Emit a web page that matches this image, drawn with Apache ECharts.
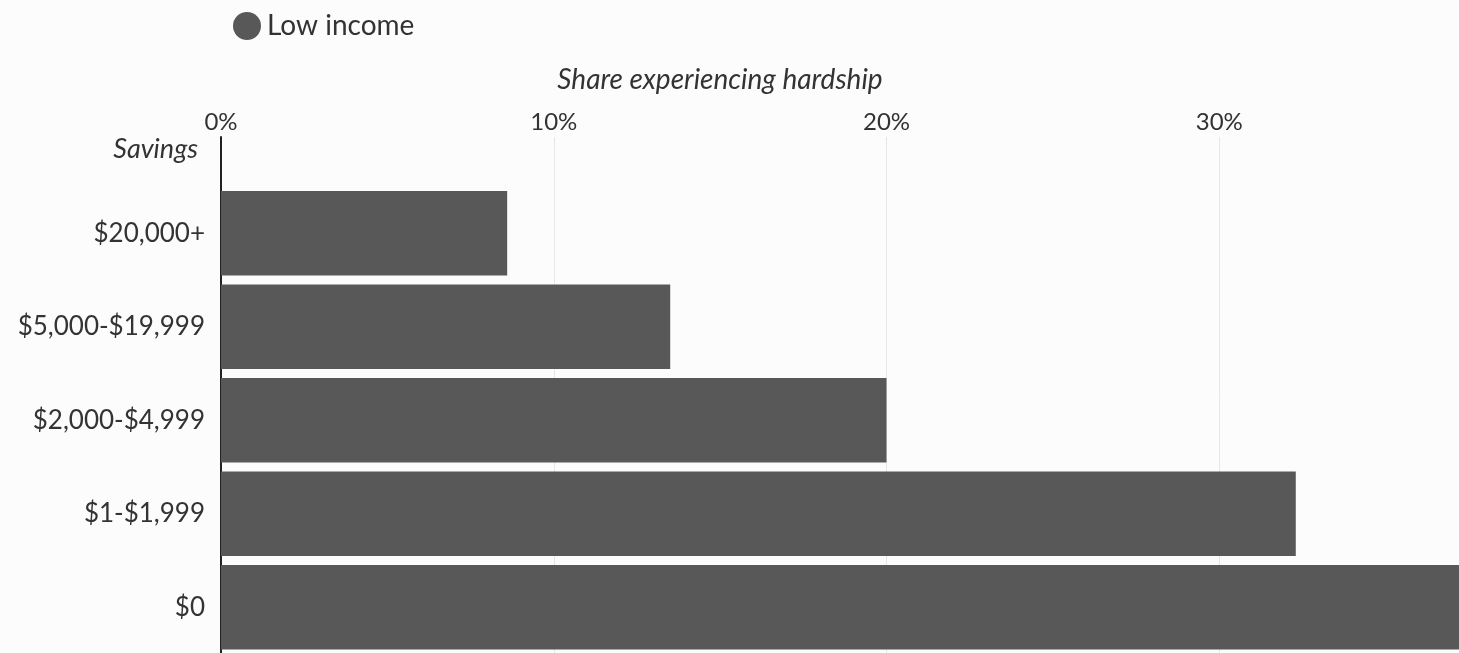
<!DOCTYPE html>
<html>
<head>
<meta charset="utf-8">
<script src="https://cdn.jsdelivr.net/npm/echarts@6/dist/echarts.min.js"></script>
<style>
  html, body { margin: 0; padding: 0; background: #fcfcfc; }
  #chart { width: 1459px; height: 653px; }
</style>
</head>
<body>
<div id="chart"></div>
<script>
// Savings brackets, top to bottom
const categories = ['$20,000+', '$5,000-$19,999', '$2,000-$4,999', '$1-$1,999', '$0'];
// Share of low-income households experiencing hardship (%)
const lowIncome = [8.6, 13.5, 20.0, 32.3, 39.0];
// Percent axis ticks
const tickValues = [0, 10, 20, 30, 40];

const FONT = 'Lato';
const TEXT = '#333333';
const BAR = '#585858';

const chart = echarts.init(document.getElementById('chart'), null, { renderer: 'canvas' });

const xMin = tickValues[0];
const xMax = tickValues[tickValues.length - 1];
const step = tickValues[1] - tickValues[0];

chart.setOption({
  backgroundColor: '#fcfcfc',
  animation: false,
  textStyle: { fontFamily: FONT, color: TEXT },
  legend: {
    data: ['Low income'],
    left: 228,
    top: 7,
    icon: 'circle',
    itemWidth: 28,
    itemHeight: 28,
    textStyle: { fontFamily: FONT, fontSize: 28, color: TEXT, padding: [0, 0, 0, 1] }
  },
  graphic: [
    {
      type: 'text',
      x: 720, y: 80,
      style: {
        text: 'Share experiencing hardship',
        font: 'italic 28px Lato',
        fill: TEXT,
        textAlign: 'center',
        textVerticalAlign: 'middle'
      }
    },
    {
      type: 'text',
      x: 198, y: 149,
      style: {
        text: 'Savings',
        font: 'italic 27px Lato',
        fill: TEXT,
        textAlign: 'right',
        textVerticalAlign: 'middle'
      }
    }
  ],
  grid: [
    // frame: percent ticks, gridlines and the zero line
    { left: 221, top: 137, width: 1331, height: 600, outerBoundsMode: 'none' },
    // bars
    { left: 221, top: 186.5, width: 1331, height: 467.5, outerBoundsMode: 'none' }
  ],
  xAxis: [
    {
      gridIndex: 0,
      type: 'value',
      position: 'top',
      min: xMin, max: xMax, interval: step,
      axisLine: { show: false },
      axisTick: { show: false },
      axisLabel: {
        formatter: v => v + '%',
        fontFamily: FONT, fontSize: 24, color: TEXT, margin: 3
      },
      splitLine: {
        show: true,
        showMinLine: false,
        lineStyle: { color: '#e6e6e6', width: 1 }
      }
    },
    {
      gridIndex: 1,
      type: 'value',
      min: xMin, max: xMax, interval: step,
      show: false
    }
  ],
  yAxis: [
    {
      gridIndex: 0,
      type: 'value',
      axisLine: { show: true, lineStyle: { color: '#222', width: 2 } },
      axisTick: { show: false },
      axisLabel: { show: false },
      splitLine: { show: false }
    },
    {
      gridIndex: 1,
      type: 'category',
      data: categories,
      inverse: true,
      axisLine: { show: false },
      axisTick: { show: false },
      axisLabel: { fontFamily: FONT, fontSize: 26, color: TEXT, margin: 16 },
      splitLine: { show: false }
    }
  ],
  series: [
    {
      name: 'Low income',
      type: 'bar',
      xAxisIndex: 1,
      yAxisIndex: 1,
      data: lowIncome,
      barCategoryGap: '9.6%',
      itemStyle: { color: BAR },
      clip: true
    }
  ]
});
</script>
</body>
</html>
